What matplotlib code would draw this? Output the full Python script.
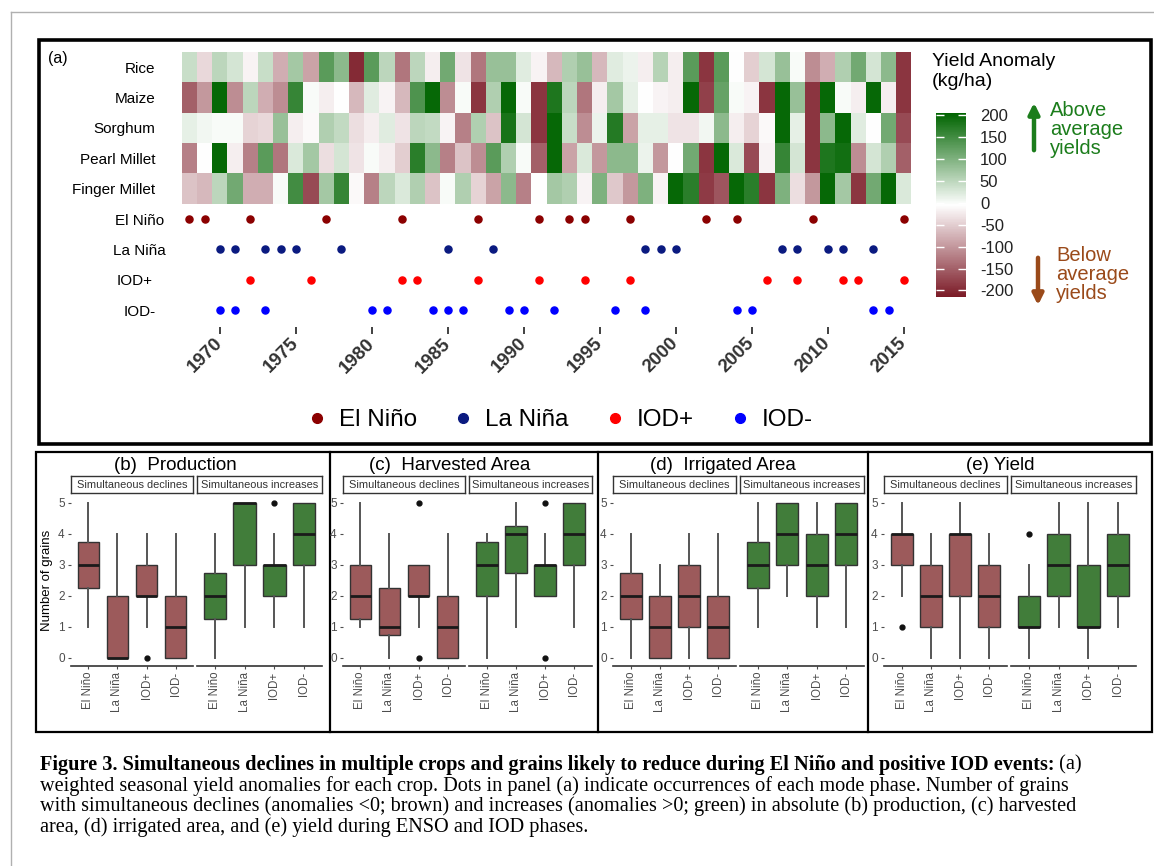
import numpy as np
import matplotlib.pyplot as plt
from matplotlib.colors import LinearSegmentedColormap, Normalize
from matplotlib.cm import ScalarMappable
from matplotlib.lines import Line2D
from matplotlib.patches import Rectangle

plt.rcParams['font.family'] = ['Liberation Sans', 'DejaVu Sans']
plt.rcParams['axes.unicode_minus'] = False

W, H = 1154, 866

# ---- panel (a) data ----
years = list(range(1968, 2016))
crops = ["Rice", "Maize", "Sorghum", "Pearl Millet", "Finger Millet"]

# weighted seasonal yield anomaly (kg/ha), 1968..2015
rice = [40, -40, 50, 30, -15, 40, -80, 70, -90, 130, 90, -200, 130, 50, -130, 50, -20, 110, -30, -130, 80, 80, 20,
        -15, -70, 60, 80, -70, 20, 10, -20, 55, -20, 130, -190, 130, -5, -50, 30, 80, 0, -110, -80, 60, 110, 30, 90, -190]
maize = [-150, -100, 200, -110, 50, -80, -110, 160, 0, -20, -5, -70, 20, -15, -70, 140, 200, -110, 0, -190, 60, 200, 0,
         -190, 180, 50, -130, -20, 70, 15, -5, -15, -20, 200, -180, 120, 0, -15, -190, 200, 80, -190, 200, 0, -20, 200, -20, -190]
sorghum = [15, 5, 0, 0, -45, -40, 80, -20, -10, 60, 45, -35, -20, 20, -30, 50, 45, -15, -120, 60, -60, 185, 30,
           -190, 200, 40, -110, 10, 175, -90, 15, 15, -30, -30, 5, 90, -20, -45, -10, 200, 15, -190, 90, 200, 20, -5, 110, -170]
pearl_millet = [-120, -5, 200, -20, -120, 130, -130, 25, 70, -35, 30, -30, 0, -20, -50, 170, 90, -120, -60, -110, 130, 60, 0,
                -150, 200, -90, 25, -100, 90, 90, 10, -100, -5, 110, -190, 200, 25, -170, -15, 160, 30, -190, 180, 190, -110, 30, 60, -150]
finger_millet = [-60, -70, 50, 110, -80, -80, 0, 150, -170, 70, 160, -10, -120, 50, 25, 60, -60, 0, 60, -45, -90, 90, -120,
                 -5, 70, 60, -15, 100, -55, -100, 100, -15, 200, 170, -185, -160, 200, 170, -190, 100, -35, -100, 200, 70, -190, 110, 200, 25]

# mode phase occurrences
el_nino = [1968, 1969, 1972, 1977, 1982, 1987, 1991, 1993, 1994, 1997, 2002, 2004, 2009, 2015]
la_nina = [1970, 1971, 1973, 1974, 1975, 1978, 1985, 1988, 1998, 1999, 2000, 2007, 2008, 2010, 2011, 2013]
iod_pos = [1972, 1976, 1982, 1983, 1987, 1991, 1994, 1997, 2006, 2008, 2011, 2012, 2015]
iod_neg = [1970, 1971, 1973, 1980, 1981, 1984, 1985, 1986, 1989, 1990, 1992, 1996, 1998, 2004, 2005, 2013, 2014]
phases = ["El Niño", "La Niña", "IOD+", "IOD-"]
phase_colors = ["#8b0000", "#0a1a80", "#ff0000", "#0000ff"]
cbar_ticks = [200, 150, 100, 50, 0, -50, -100, -150, -200]

# ---- panels (b)-(e) box stats: [panel][facet][phase] ----
panel_titles = ["(b)  Production", "(c)  Harvested Area", "(d)  Irrigated Area", "(e) Yield"]
facets = ["Simultaneous declines", "Simultaneous increases"]
box_q1 = [[[2.25, 0, 2, 0], [1.25, 3, 2, 3]],
          [[1.25, 0.75, 2, 0], [2, 2.75, 2, 3]],
          [[1.25, 0, 1, 0], [2.25, 3, 2, 3]],
          [[3, 1, 2, 1], [1, 2, 1, 2]]]
box_med = [[[3, 0, 2, 1], [2, 5, 3, 4]],
           [[2, 1, 2, 1], [3, 4, 3, 4]],
           [[2, 1, 2, 1], [3, 4, 3, 4]],
           [[4, 2, 4, 2], [1, 3, 1, 3]]]
box_q3 = [[[3.75, 2, 3, 2], [2.75, 5, 3, 5]],
          [[3, 2.25, 3, 2], [3.75, 4.25, 3, 5]],
          [[2.75, 2, 3, 2], [3.75, 5, 4, 5]],
          [[4, 3, 4, 3], [2, 4, 3, 4]]]
box_lo = [[[1, 0, 1, 0], [0, 1, 1, 1]],
          [[1, 0, 1, 0], [0, 1, 2, 1]],
          [[0, 0, 0, 0], [1, 2, 1, 1]],
          [[2, 0, 0, 0], [0, 1, 0, 1]]]
box_hi = [[[5, 4, 4, 4], [4, 5, 4, 5]],
          [[5, 4, 3, 4], [4, 5, 4, 5]],
          [[4, 3, 4, 4], [5, 5, 5, 5]],
          [[5, 4, 5, 4], [3, 5, 5, 5]]]
# (panel, facet, phase, value)
box_fliers = [(0, 0, 2, 0), (0, 1, 2, 5), (1, 0, 2, 0), (1, 0, 2, 5),
              (1, 1, 2, 0), (1, 1, 2, 5), (3, 0, 0, 1), (3, 1, 0, 4)]
facet_colors = ["#9c5a5b", "#417d3a"]

fig = plt.figure(figsize=(W / 100, H / 100), dpi=100)


def px_axes(x0, y0, x1, y1):
    a = fig.add_axes([x0 / W, 1 - y1 / H, (x1 - x0) / W, (y1 - y0) / H])
    a.set_facecolor('none')
    return a


bg = px_axes(0, 0, W, H)
bg.set_xlim(0, W)
bg.set_ylim(H, 0)
bg.axis('off')

# frames
bg.plot([11, W], [12, 12], color='#b0b0b0', lw=1)
bg.plot([11, 11], [12, H], color='#b0b0b0', lw=1)
bg.add_patch(Rectangle((38.5, 39.5), 1112, 404, fill=False, lw=2.6, ec='black'))
bg.add_patch(Rectangle((35.5, 452), 1116, 280, fill=False, lw=1.6, ec='black'))
for xd in [330, 598, 868]:
    bg.plot([xd, xd], [452, 732], color='black', lw=1.6)

# ---- panel (a) ----
cmap = LinearSegmentedColormap.from_list('anom', ['#7b1a26', '#ffffff', '#006400'])
norm = Normalize(-215, 205)
anom = np.array([rice, maize, sorghum, pearl_millet, finger_millet])

ax = px_axes(181.7, 51.8, 911.3, 327)
ax.pcolormesh(np.arange(1967.5, 2016.0, 1), np.arange(-0.5, 5.0, 1), anom, cmap=cmap, norm=norm)
for i, (yrs, c) in enumerate(zip([el_nino, la_nina, iod_pos, iod_neg], phase_colors)):
    ax.scatter(yrs, [5 + i] * len(yrs), s=26, color=c, zorder=3)
ax.set_xlim(1967.5, 2015.5)
ax.set_ylim(8.55, -0.5)
for s in ax.spines.values():
    s.set_visible(False)
ax.set_yticks(range(9))
ax.set_yticklabels(crops + phases, fontsize=11)
ax.tick_params(axis='y', length=0)
for t, p in zip(ax.yaxis.get_major_ticks(), [19, 19, 19, 19, 19, 13, 11.5, 21, 19]):
    t.set_pad(p)
ax.set_xticks(range(1970, 2016, 5))
ax.set_xticklabels([str(y) for y in range(1970, 2016, 5)], rotation=45, ha='right', va='center',
                   rotation_mode='anchor', fontsize=13.5, fontweight='bold', color='#333333')
ax.tick_params(axis='x', length=5, width=1.3, color='#333333', pad=5)
bg.text(48, 59, "(a)", fontsize=11.5, ha='left', va='center')

# colorbar
cax = px_axes(936, 113, 966, 297)
cb = fig.colorbar(ScalarMappable(norm=norm, cmap=cmap), cax=cax, ticks=cbar_ticks)
cb.set_ticklabels([str(v) for v in cbar_ticks])
cb.outline.set_visible(False)
cax.tick_params(direction='in', color='white', length=6, width=1, left=True, right=True,
                labelsize=12, labelcolor='#222222', pad=10)
bg.text(932, 53, "Yield Anomaly\n(kg/ha)", fontsize=14, ha='left', va='top', linespacing=1.25)

green_txt = '#1c7d1c'
brown_txt = '#9a4a1a'
bg.annotate('', xy=(1034, 100), xytext=(1034, 153),
            arrowprops=dict(arrowstyle='-|>', lw=3.2, color=green_txt, mutation_scale=16))
bg.text(1050, 101, "Above\naverage\nyields", fontsize=14.5, color=green_txt, ha='left', va='top', linespacing=1.0)
bg.annotate('', xy=(1038, 308), xytext=(1038, 255),
            arrowprops=dict(arrowstyle='-|>', lw=3.2, color=brown_txt, mutation_scale=16))
bg.text(1056, 246, "Below\naverage\nyields", fontsize=14.5, color=brown_txt, ha='left', va='top', linespacing=1.0)

handles = [Line2D([], [], marker='o', ls='', color=c, markersize=7) for c in phase_colors]
fig.legend(handles, phases, loc='center', bbox_to_anchor=(560 / W, 1 - 420 / H), ncol=4, frameon=False,
           fontsize=17.5, handlelength=0.8, handletextpad=0.5, columnspacing=1.5)

# ---- panels (b)-(e) ----
facet_x = [[(71, 193), (197, 322)], [(343, 465), (469, 592)],
           [(613, 736), (740, 864)], [(884, 1007), (1011, 1136)]]
title_x = [175, 450, 723, 1000]
for p in range(4):
    bg.text(title_x[p], 465, panel_titles[p], fontsize=13.5, ha='center', va='center')
    for f in range(2):
        x0, x1 = facet_x[p][f]
        bax = px_axes(x0, 495, x1, 665.5)
        stats = []
        for k in range(4):
            fl = [v for (pp, ff, kk, v) in box_fliers if (pp, ff, kk) == (p, f, k)]
            stats.append(dict(med=box_med[p][f][k], q1=box_q1[p][f][k], q3=box_q3[p][f][k],
                              whislo=box_lo[p][f][k], whishi=box_hi[p][f][k], fliers=fl))
        bax.bxp(stats, positions=[1, 2, 3, 4], widths=0.75, patch_artist=True, showcaps=False,
                boxprops=dict(facecolor=facet_colors[f], edgecolor='#333333', lw=1),
                medianprops=dict(color='#1a1a1a', lw=2),
                whiskerprops=dict(color='#555555', lw=1.4),
                flierprops=dict(marker='o', markerfacecolor='#111111', markeredgecolor='#111111', markersize=3.5))
        bax.set_xlim(0.4, 4.6)
        bax.set_ylim(-0.25, 5.25)
        for side in ['top', 'right', 'left']:
            bax.spines[side].set_visible(False)
        bax.spines['bottom'].set_color('#333333')
        bax.spines['bottom'].set_linewidth(1.2)
        bax.set_xticks([1, 2, 3, 4])
        bax.set_xticklabels(phases, rotation=90, fontsize=8.3, color='#4d4d4d')
        bax.tick_params(axis='x', length=2.5, color='#4d4d4d', pad=2)
        if f == 0:
            bax.set_yticks(range(6))
            bax.tick_params(axis='y', length=2.5, color='#4d4d4d', labelsize=8.5, labelcolor='#4d4d4d', pad=2)
        else:
            bax.set_yticks([])
        sax = px_axes(x0, 476, x1, 493)
        sax.set_xticks([])
        sax.set_yticks([])
        for s in sax.spines.values():
            s.set_color('#333333')
            s.set_linewidth(1)
        sax.text(0.5, 0.5, facets[f], ha='center', va='center', fontsize=7.9, color='#333333',
                 transform=sax.transAxes)

bg.text(47, 580, "Number of grains", rotation=90, fontsize=9.5, ha='center', va='center')

# ---- caption ----
cap_font = 'Liberation Serif'
cap_size = 14.6
t1 = bg.text(40, 765, "Figure 3. Simultaneous declines in multiple crops and grains likely to reduce during "
             "El Niño and positive IOD events:", fontsize=cap_size, fontweight='bold', family=cap_font,
             ha='left', va='center')
bg.annotate(" (a)", xy=(1, 0.5), xycoords=t1, fontsize=cap_size, family=cap_font, ha='left', va='center')
cap_lines = ["weighted seasonal yield anomalies for each crop. Dots in panel (a) indicate occurrences of each mode phase. Number of grains",
             "with simultaneous declines (anomalies <0; brown) and increases (anomalies >0; green) in absolute (b) production, (c) harvested",
             "area, (d) irrigated area, and (e) yield during ENSO and IOD phases."]
for i, line in enumerate(cap_lines):
    bg.text(40, 786 + 20.5 * i, line, fontsize=cap_size, family=cap_font, ha='left', va='center')

fig.savefig('out.png', dpi=100)
